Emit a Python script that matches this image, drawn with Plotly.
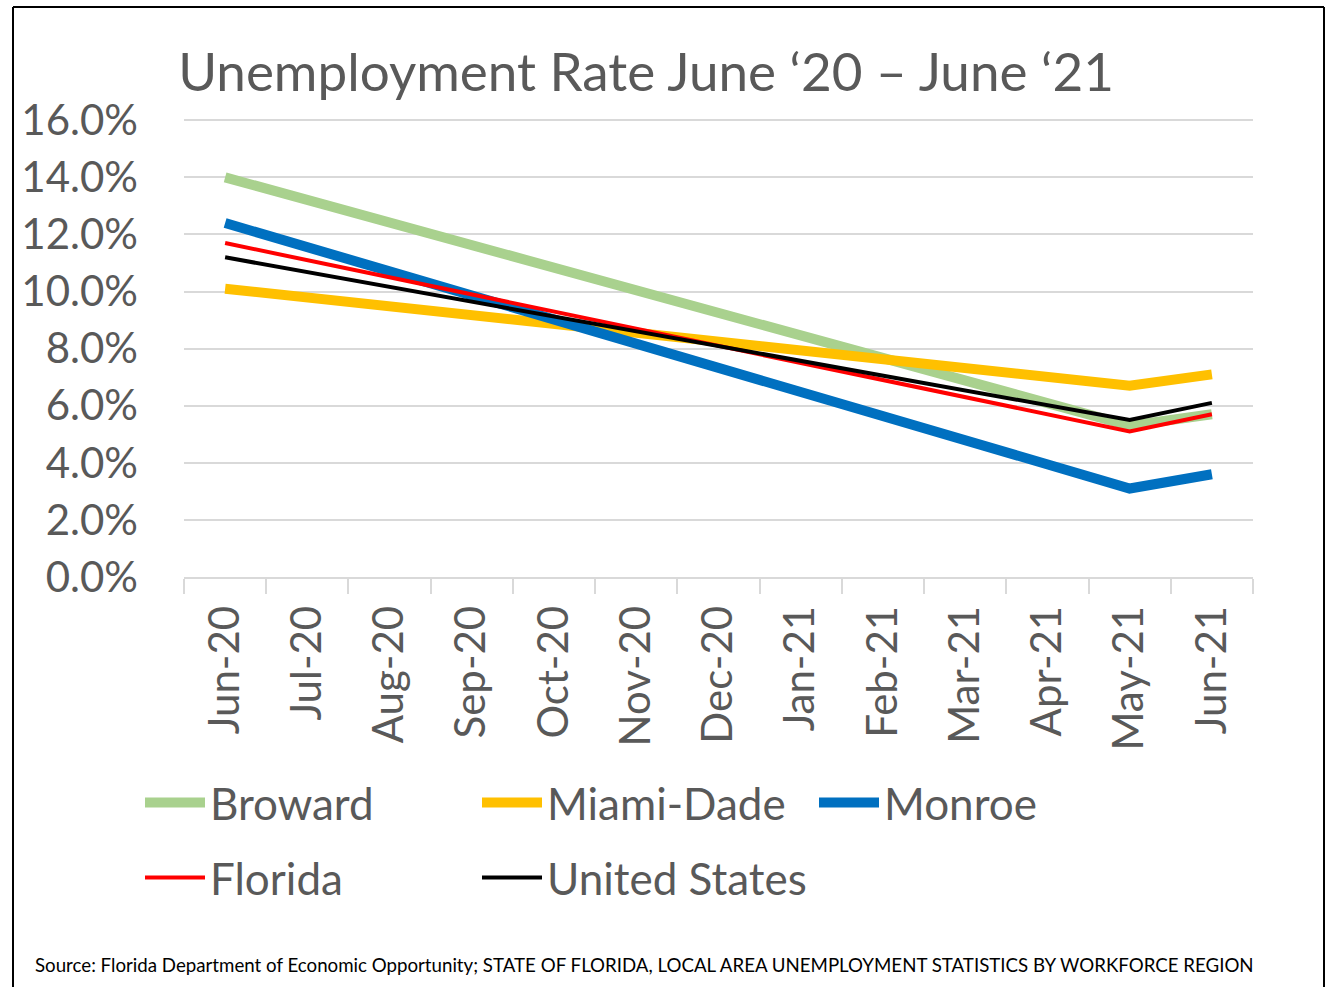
import plotly.graph_objects as go

months = ["Jun-20", "Jul-20", "Aug-20", "Sep-20", "Oct-20", "Nov-20", "Dec-20",
          "Jan-21", "Feb-21", "Mar-21", "Apr-21", "May-21", "Jun-21"]
N = None
broward =     [14.0, N, N, N, N, N, N, N, N, N, N, 5.3, 5.7]
miami_dade =  [10.1, N, N, N, N, N, N, N, N, N, N, 6.7, 7.1]
monroe =      [12.4, N, N, N, N, N, N, N, N, N, N, 3.1, 3.6]
florida =     [11.7, N, N, N, N, N, N, N, N, N, N, 5.1, 5.7]
united_states = [11.2, N, N, N, N, N, N, N, N, N, N, 5.5, 6.1]

y_ticks = [0, 2, 4, 6, 8, 10, 12, 14, 16]

series = [
    ("Broward", broward, "#A9D18E", 10, "legend"),
    ("Miami-Dade", miami_dade, "#FFC000", 10, "legend"),
    ("Monroe", monroe, "#0070C0", 10, "legend"),
    ("Florida", florida, "#FF0000", 4, "legend2"),
    ("United States", united_states, "#000000", 4, "legend2"),
]

FONT = "Lato"
GREY = "#595959"

fig = go.Figure()
for name, vals, color, w, lg in series:
    fig.add_trace(go.Scatter(
        x=months, y=[v / 100 if v is not None else None for v in vals],
        mode="lines", name=name, connectgaps=True,
        line=dict(color=color, width=w), legend=lg,
    ))

W, H = 1330, 987
L, R, T, B = 184, 77, 118, 410
pw, ph = W - L - R, H - T - B

def px(x):
    return (x - L) / pw

def py(y):
    return (H - B - y) / ph

legend_common = dict(orientation="h", x=px(140), xanchor="left", yanchor="middle",
                     font=dict(size=44, color=GREY, family=FONT),
                     entrywidth=262, entrywidthmode="pixels", itemwidth=60,
                     bgcolor="rgba(0,0,0,0)")

fig.update_layout(
    width=W, height=H,
    margin=dict(l=L, r=R, t=T, b=B),
    paper_bgcolor="white", plot_bgcolor="white",
    font=dict(family=FONT, color=GREY),
    title=dict(text="Unemployment Rate June \u201820 \u2013 June \u201821",
               font=dict(size=53, color=GREY, family=FONT),
               x=646 / W, xref="container", xanchor="center",
               y=1 - 72 / H, yref="container", yanchor="middle"),
    xaxis=dict(type="category", range=[-0.5, 12.5], tickson="boundaries",
               ticks="outside", ticklen=15, tickcolor="#d9d9d9", tickwidth=2,
               tickangle=-90, tickfont=dict(size=42, color=GREY, family=FONT),
               showgrid=False, showline=True, linecolor="#d9d9d9", linewidth=2,
               ticklabelstandoff=10),
    yaxis=dict(range=[0, 0.1608], tickvals=[v / 100 for v in y_ticks], tickformat=".1%",
               showgrid=True, gridcolor="#d9d9d9", gridwidth=2, zeroline=False,
               tickfont=dict(size=42, color=GREY, family=FONT), ticks="",
               ticklabelstandoff=45),
    legend=dict(y=py(803), **legend_common),
    legend2=dict(y=py(878), **legend_common),
    showlegend=True,
)

fig.add_annotation(
    text="Source: Florida Department of Economic Opportunity; STATE OF FLORIDA, LOCAL AREA UNEMPLOYMENT STATISTICS BY WORKFORCE REGION",
    xref="paper", yref="paper", x=px(33), y=py(965), xanchor="left", yanchor="middle",
    showarrow=False, font=dict(size=18.7, color="black", family=FONT),
)

# outer frame
for x0, y0, x1, y1 in [(13, 7, 1324, 7), (13, 7, 13, 995), (1324, 7, 1324, 995)]:
    fig.add_shape(type="line", xref="paper", yref="paper",
                  x0=px(x0), y0=py(y0), x1=px(x1), y1=py(y1),
                  line=dict(color="black", width=2))

fig.write_html("out.html", config={"displayModeBar": False},
               post_script="document.body.style.margin='0px';document.body.style.padding='0px';")
